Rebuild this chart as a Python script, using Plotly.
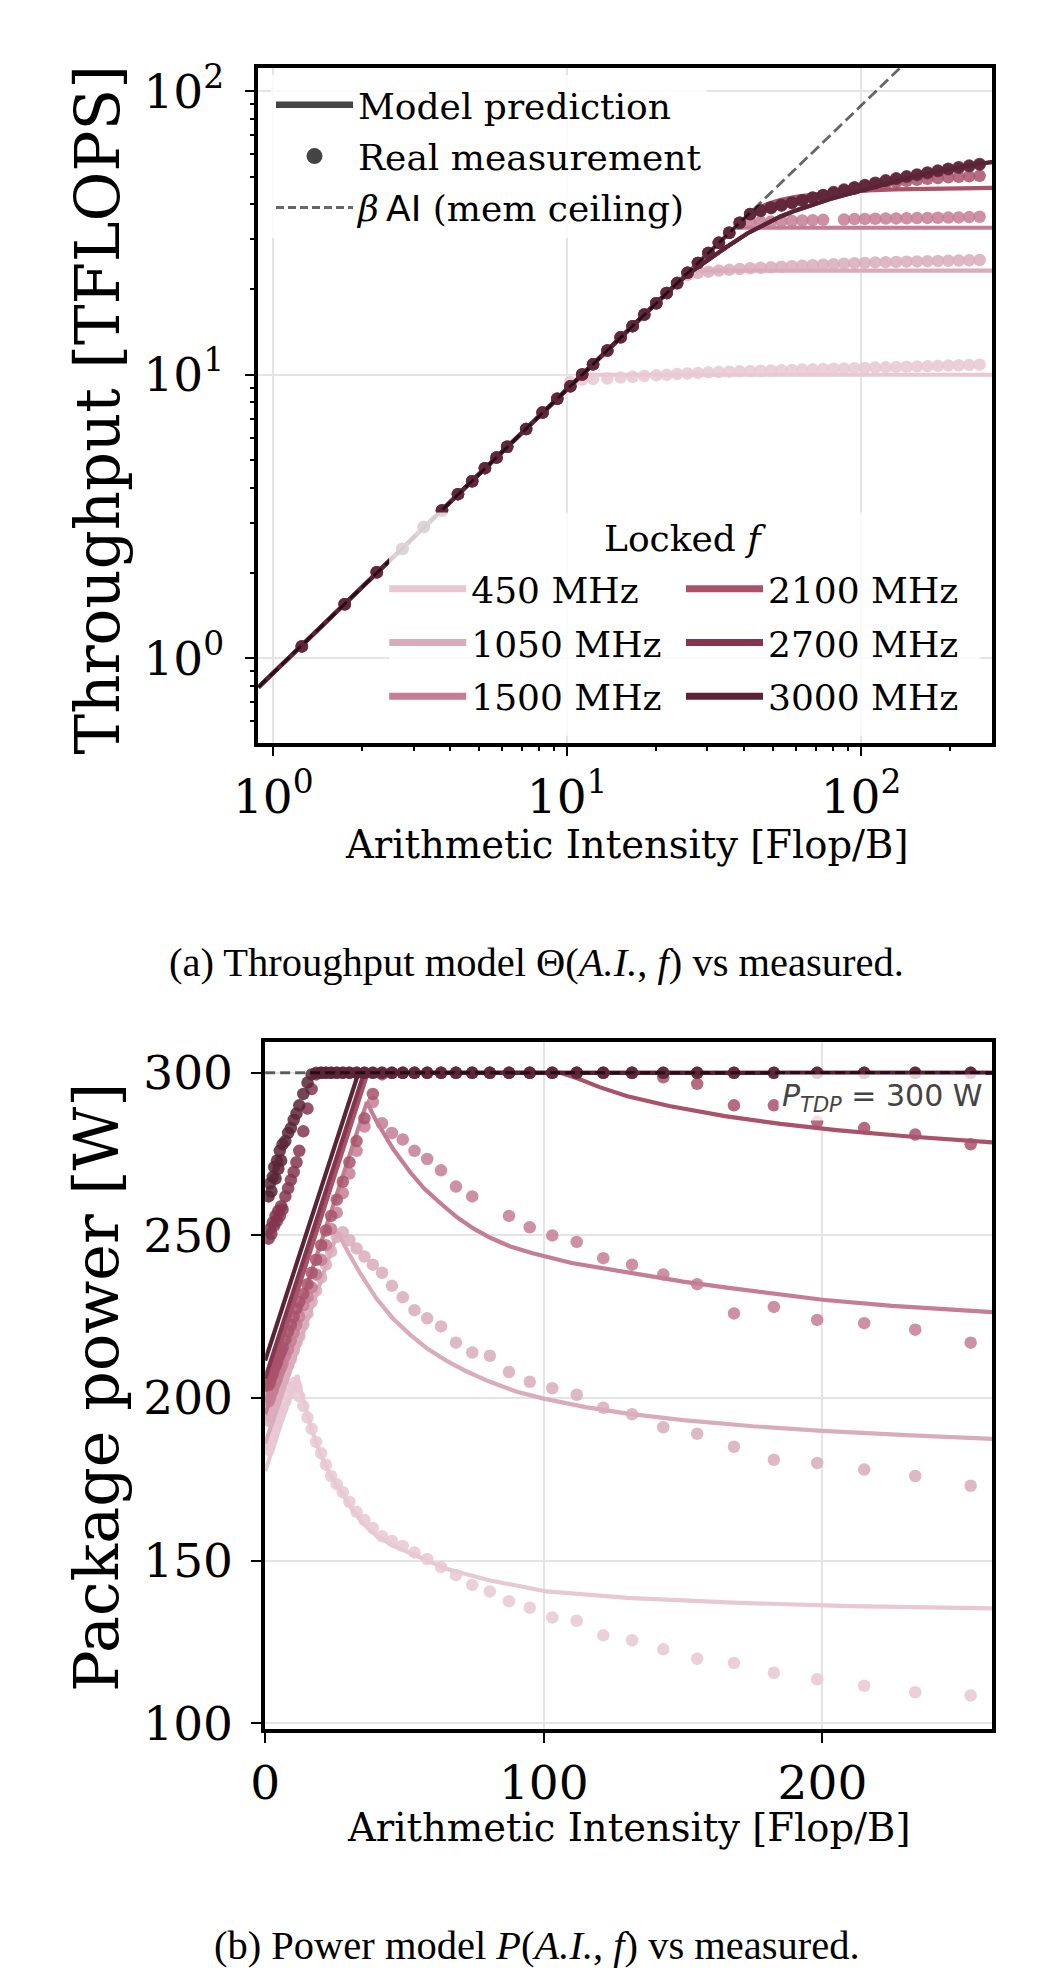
import plotly.graph_objects as go

W, H = 1050, 1988

# ---------------- data ----------------
FREQS = ["450 MHz", "1050 MHz", "1500 MHz", "2100 MHz", "2700 MHz", "3000 MHz"]
COLORS = ["#e8c8d3", "#d9acbc", "#c47d94", "#a8526c", "#84354f", "#5a2437"]

AI = [1.25, 1.75, 2.25, 2.75, 3.25, 3.75, 4.25, 4.75, 5.25, 5.75, 6.25,
      7.25, 8.25, 9.25, 10.25, 11.25, 12.25, 13.7, 15.2, 16.7, 18.3,
      20.1, 21.81, 23.67, 25.69, 27.87, 30.25, 32.82, 35.62, 38.65, 41.94,
      45.51, 49.39, 53.59, 58.16, 63.11, 68.48, 74.31, 80.64, 87.51, 94.96,
      103.05, 111.82, 121.34, 131.67, 142.88, 155.05, 168.25, 182.58, 198.12, 214.99,
      233.3, 253.2]

# measured throughput [TFLOPS]
THR_450 = [1.10, 1.55, 2.01, 2.43, 2.90, 3.32, 3.79, 4.21, 4.68, 5.10, 5.57,
           6.43, 7.36, 8.20, 9.42, 9.60, 9.65, 9.70, 9.78, 9.84, 9.90,
           9.95, 10.00, 10.05, 10.10, 10.15, 10.20, 10.22, 10.25, 10.28, 10.30,
           10.33, 10.35, 10.38, 10.40, 10.43, 10.45, 10.48, 10.50, 10.52, 10.55,
           10.57, 10.60, 10.62, 10.65, 10.67, 10.70, 10.72, 10.75, 10.78, 10.80,
           10.82, 10.85]
THR_1050 = [1.10, 1.55, 2.01, 2.43, 2.90, 3.32, 3.79, 4.21, 4.68, 5.10, 5.57,
            6.43, 7.36, 8.22, 9.10, 10.02, 10.88, 12.17, 13.55, 14.84, 16.30,
            17.87, 19.43, 20.90, 22.50, 22.90, 23.10, 23.30, 23.45, 23.60, 23.75,
            23.85, 23.95, 24.05, 24.15, 24.25, 24.35, 24.45, 24.55, 24.65, 24.75,
            24.80, 24.90, 24.95, 25.00, 25.05, 25.10, 25.15, 25.20, 25.25, 25.30,
            25.35, 25.40]
THR_1500 = [1.10, 1.55, 2.01, 2.43, 2.90, 3.32, 3.79, 4.21, 4.68, 5.10, 5.57,
            6.43, 7.36, 8.22, 9.10, 10.02, 10.88, 12.17, 13.55, 14.84, 16.30,
            17.87, 19.43, 21.05, 22.88, 24.78, 26.90, 29.20, 31.68, 34.00, 34.40,
            34.60, 34.70, 34.80, 34.90, 35.00, 35.10, 35.20, None, 35.30, 35.40,
            35.45, 35.50, 35.55, 35.60, 35.65, 35.70, 35.75, 35.80, 35.85, 35.90,
            36.00, 36.10]
THR_2100 = [1.10, 1.55, 2.01, 2.43, 2.90, 3.32, 3.79, 4.21, 4.68, 5.10, 5.57,
            6.43, 7.36, 8.22, 9.10, 10.02, 10.88, 12.17, 13.55, 14.84, 16.30,
            17.87, 19.43, 21.05, 22.88, 24.78, 26.90, 29.20, 31.68, 34.38, 36.90,
            37.90, 38.80, 39.60, 40.40, 41.20, 42.00, 42.90, 43.80, 44.60, 45.30,
            46.00, 46.70, 47.30, 47.80, 48.30, 48.70, 49.10, 49.40, 49.70, 49.90,
            50.10, 50.30]
THR_2700 = [1.10, 1.55, 2.01, 2.43, 2.90, 3.32, 3.79, 4.21, 4.68, 5.10, 5.57,
            6.43, 7.36, 8.22, 9.10, 10.02, 10.88, 12.17, 13.55, 14.84, 16.30,
            17.87, 19.43, 21.05, 22.88, 24.78, 26.90, 29.20, 31.68, 34.38, 36.80,
            37.80, 38.70, 39.50, 40.30, 41.10, 42.00, 42.90, 43.80, 44.70, 45.60,
            46.40, 47.30, 48.20, 49.00, 49.80, 50.60, 51.40, 52.20, 53.00, 53.70,
            54.40, 55.10]
THR_3000 = [1.10, 1.55, 2.01, 2.43, 2.90, 3.32, 3.79, 4.21, 4.68, 5.10, 5.57,
            6.43, 7.36, 8.22, 9.10, 10.02, 10.88, 12.17, 13.55, 14.84, 16.30,
            17.87, 19.43, 21.05, 22.88, 24.78, 26.90, 29.20, 31.68, 34.38, 36.90,
            38.00, 38.90, 39.70, 40.50, 41.30, 42.20, 43.10, 44.10, 45.00, 45.90,
            46.70, 47.60, 48.50, 49.30, 50.10, 50.90, 51.70, 52.50, 53.30, 54.00,
            54.70, 55.40]

# measured package power [W]
PWR_450 = [184.0, 185.5, 187.0, 188.5, 190.0, 191.5, 193.0, 194.0, 195.0, 196.0, 197.0,
           199.0, 201.0, 203.0, 204.5, 203.5, 200.5, 197.5, 194.0, 190.5, 186.5,
           183.0, 179.5, 176.0, 173.5, 171.0, 168.0, 165.0, 162.5, 160.0, 157.5,
           156.0, 154.5, 152.5, 150.5, 148.0, 145.5, 142.5, 140.5, 137.5, 135.5,
           132.5, 131.5, 127.0, 125.5, 122.7, 119.8, 118.5, 115.5, 113.5, 111.5,
           109.5, 108.5]
PWR_1050 = [193.0, 194.5, 196.0, 197.5, 199.0, 200.0, 201.0, 202.0, 203.5, 204.5, 205.5,
            208.0, 210.0, 212.0, 214.5, 217.0, 219.0, 222.5, 226.0, 229.5, 233.0,
            237.0, 241.0, 245.0, 249.5, 251.0, 248.5, 246.0, 243.5, 241.0, 238.5,
            234.5, 231.0, 227.0, 224.5, 222.0, 217.0, 214.0, 213.0, 208.0, 205.0,
            203.0, 201.0, 197.0, 195.0, 191.0, 189.0, 185.0, 181.0, 180.0, 178.0,
            176.0, 173.0]
PWR_1500 = [199.0, 200.0, 201.5, 202.5, 204.0, 205.0, 206.0, 207.5, 208.5, 209.5, 210.5,
            213.0, 215.0, 217.5, 220.0, 222.5, 225.0, 228.5, 231.0, 234.0, 238.0,
            242.5, 247.0, 252.0, 257.0, 263.0, 269.0, 276.0, 283.5, 291.0, 284.5,
            281.5, 279.5, 276.0, 273.5, 270.0, 265.0, 262.0, None, 256.0, 252.5,
            250.0, 248.0, 243.0, 241.0, 238.0, 235.0, 226.0, 228.0, 224.0, 223.0,
            221.0, 217.0]
PWR_2100 = [204.0, 205.0, 206.5, 207.5, 209.0, 210.0, 211.0, 212.5, 213.5, 214.5, 215.5,
            218.0, 220.5, 222.5, 225.0, 227.5, 229.5, 232.0, 235.0, 238.5, 242.5,
            247.0, 251.5, 256.0, 261.0, 266.5, 272.5, 279.0, 286.0, 293.5, 299.5,
            300.0, 300.0, 300.0, 300.0, 300.0, 300.0, 300.0, 300.0, 300.0, 300.0,
            300.0, 300.0, 300.0, 300.0, 298.6, 296.6, 290.0, 290.0, 285.0, 283.0,
            281.0, 278.0]
PWR_2700 = [249.0, 252.0, 250.5, 254.0, 253.0, 256.0, 254.5, 257.5, 256.0, 259.0, 258.0,
            262.0, 264.5, 267.0, 269.5, 272.5, 276.0, 282.0, 289.0, 295.0, 299.5,
            300.0, 300.0, 300.0, 300.0, 300.0, 300.0, 300.0, 300.0, 300.0, 300.0,
            300.0, 300.0, 300.0, 300.0, 300.0, 300.0, 300.0, 300.0, 300.0, 300.0,
            300.0, 300.0, 300.0, 300.0, 300.0, 300.0, 300.0, 300.0, 300.0, 300.0,
            300.0, 300.0]
PWR_3000 = [262.0, 266.0, 263.5, 268.0, 271.0, 267.5, 273.0, 270.5, 276.0, 273.0, 278.0,
            279.0, 281.5, 283.0, 285.5, 287.5, 290.0, 293.5, 297.0, 299.5, 300.0,
            300.0, 300.0, 300.0, 300.0, 300.0, 300.0, 300.0, 300.0, 300.0, 300.0,
            300.0, 300.0, 300.0, 300.0, 300.0, 300.0, 300.0, 300.0, 300.0, 300.0,
            300.0, 300.0, 300.0, 300.0, 300.0, 300.0, 300.0, 300.0, 300.0, 300.0,
            300.0, 300.0]

# model prediction, throughput (panel a)
MT_AI_450 = [0.89, 11.24, 280.0]
MT_450 = [0.79, 10.0, 10.0]
MT_AI_1050 = [0.89, 26.2, 280.0]
MT_1050 = [0.79, 23.3, 23.3]
MT_AI_1500 = [0.89, 37.1, 280.0]
MT_1500 = [0.79, 33.0, 33.0]
MT_AI_2100 = [0.89, 40.0, 44.0, 48.0, 53.0, 60.0, 70.0, 80.0, 100.0, 130.0, 170.0, 220.0, 280.0]
MT_2100 = [0.79, 35.5, 38.3, 40.0, 41.3, 42.4, 43.3, 43.9, 44.6, 45.1, 45.4, 45.5, 45.6]
MT_AI_2700 = [0.89, 22.0, 26.0, 30.0, 35.0, 41.0, 47.0, 53.0, 60.0, 68.0, 78.0, 88.0,
              100.0, 114.0, 130.0, 150.0, 175.0, 200.0, 230.0, 254.0, 280.0]
MT_2700 = [0.79, 19.6, 22.8, 25.4, 28.3, 31.5, 34.0, 36.1, 38.0, 39.8, 41.6, 43.1,
           44.7, 46.4, 48.1, 49.9, 51.8, 53.2, 54.6, 55.5, 56.3]
MT_AI_3000 = [0.89, 22.0, 26.0, 30.0, 35.0, 41.0, 47.0, 53.0, 60.0, 68.0, 78.0, 88.0,
              100.0, 114.0, 130.0, 150.0, 175.0, 200.0, 230.0, 254.0, 280.0]
MT_3000 = [0.79, 19.6, 22.8, 25.4, 28.3, 31.5, 34.0, 36.1, 38.0, 39.8, 41.6, 43.1,
           44.7, 46.4, 48.1, 49.9, 51.8, 53.2, 54.6, 55.5, 56.3]

# memory ceiling beta * AI
MEM_AI = [0.89, 140.0]
MEM_THR = [0.79, 124.6]

# model prediction, power (panel b)
MP_AI_450 = [0, 11.5, 13, 15, 17, 20, 23, 27, 31, 35, 40, 46, 54, 65, 80, 101, 130, 170, 210, 261]
MP_450 = [177.5, 207.0, 201.5, 195.0, 189.5, 182.5, 177.0, 171.5, 166.0, 161.5, 157.5, 154.5,
          151.5, 147.5, 144.0, 140.5, 138.5, 137.0, 136.0, 135.3]
MP_AI_1050 = [0, 26, 30, 34, 40, 46, 52, 58, 65, 72, 80, 90, 100, 115, 130, 150, 175, 200, 230, 261]
MP_1050 = [186.0, 251.0, 244.5, 238.5, 230.5, 224.3, 219.5, 215.3, 211.5, 208.3, 205.2, 202.0,
           199.8, 197.2, 195.2, 193.2, 191.3, 189.9, 188.6, 187.4]
MP_AI_1500 = [0, 36.5, 40, 46, 52, 57, 63, 69, 75, 81, 88, 96, 110, 130, 150, 165, 185, 200, 225, 261]
MP_1500 = [195.0, 291.0, 285.0, 276.5, 269.5, 264.5, 259.8, 255.5, 252.0, 249.2, 246.6, 244.5,
           241.5, 238.5, 235.8, 234.0, 231.8, 230.2, 228.3, 226.4]
MP_AI_2100 = [0, 36.8, 106, 112, 120, 130, 145, 165, 185, 205, 230, 261]
MP_2100 = [202.0, 300.0, 300.0, 298.3, 295.6, 292.8, 289.8, 286.7, 284.3, 282.4, 280.5, 278.6]
MP_AI_2700 = [0, 35.5, 261]
MP_2700 = [206.0, 300.0, 300.0]
MP_AI_3000 = [0, 33.5, 261]
MP_3000 = [211.5, 300.0, 300.0]

TDP_AI = [0, 261]
TDP_W = [300, 300]

SERIES = [
    (FREQS[0], COLORS[0], THR_450, PWR_450, MT_AI_450, MT_450, MP_AI_450, MP_450),
    (FREQS[1], COLORS[1], THR_1050, PWR_1050, MT_AI_1050, MT_1050, MP_AI_1050, MP_1050),
    (FREQS[2], COLORS[2], THR_1500, PWR_1500, MT_AI_1500, MT_1500, MP_AI_1500, MP_1500),
    (FREQS[3], COLORS[3], THR_2100, PWR_2100, MT_AI_2100, MT_2100, MP_AI_2100, MP_2100),
    (FREQS[4], COLORS[4], THR_2700, PWR_2700, MT_AI_2700, MT_2700, MP_AI_2700, MP_2700),
    (FREQS[5], COLORS[5], THR_3000, PWR_3000, MT_AI_3000, MT_3000, MP_AI_3000, MP_3000),
]

# ---------------- figure ----------------
SERIF = "DejaVu Serif"
SANS = "DejaVu Sans"
TIMES = "Liberation Serif"
MARK = 12.5
ALPHA = 0.85
LW = 4.2
LEGFONT = 36

fig = go.Figure()

for name, col, thr, pwr, mtx, mty, mpx, mpy in SERIES:
    fig.add_trace(go.Scatter(x=mtx, y=mty, mode="lines", line=dict(color=col, width=LW),
                             xaxis="x", yaxis="y", showlegend=False, hoverinfo="skip"))
    fig.add_trace(go.Scatter(x=AI, y=thr, mode="markers",
                             marker=dict(color=col, size=MARK, opacity=ALPHA, line=dict(width=0)),
                             xaxis="x", yaxis="y", showlegend=False, hoverinfo="skip"))
fig.add_trace(go.Scatter(x=MEM_AI, y=MEM_THR, mode="lines",
                         line=dict(color="rgba(0,0,0,0.6)", width=2.8, dash="11px,5px"),
                         xaxis="x", yaxis="y", showlegend=False, hoverinfo="skip"))

for name, col, thr, pwr, mtx, mty, mpx, mpy in SERIES:
    fig.add_trace(go.Scatter(x=mpx, y=mpy, mode="lines", line=dict(color=col, width=LW),
                             xaxis="x2", yaxis="y2", showlegend=False, hoverinfo="skip"))
    fig.add_trace(go.Scatter(x=AI, y=pwr, mode="markers",
                             marker=dict(color=col, size=MARK, opacity=ALPHA, line=dict(width=0)),
                             xaxis="x2", yaxis="y2", showlegend=False, hoverinfo="skip"))
fig.add_trace(go.Scatter(x=TDP_AI, y=TDP_W, mode="lines",
                         line=dict(color="rgba(0,0,0,0.6)", width=3, dash="10px,5px"),
                         xaxis="x2", yaxis="y2", showlegend=False, hoverinfo="skip"))

# legend entries (main legend)
fig.add_trace(go.Scatter(x=[None], y=[None], mode="lines", name="Model prediction",
                         line=dict(color="#444444", width=6.5), legend="legend",
                         legendgroup="m1", xaxis="x", yaxis="y"))
fig.add_trace(go.Scatter(x=[None], y=[None], mode="markers", name="Real measurement",
                         marker=dict(color="#444444", size=16), legend="legend",
                         legendgroup="m2", xaxis="x", yaxis="y"))
fig.add_trace(go.Scatter(x=[None], y=[None], mode="lines",
                         name="<i>β</i>\u2009<span style='font-family:DejaVu Sans'>AI</span> (mem ceiling)",
                         line=dict(color="#666666", width=3, dash="8px,4px"), legend="legend",
                         legendgroup="m3", xaxis="x", yaxis="y"))

# frequency legend entries (two columns)
for i, (name, col, *_r) in enumerate(SERIES):
    leg = "legend2" if i < 3 else "legend3"
    fig.add_trace(go.Scatter(x=[None], y=[None], mode="lines", name=name,
                             line=dict(color=col, width=7), legend=leg,
                             legendgroup="f%d" % i, xaxis="x", yaxis="y"))

axis_common = dict(
    showline=True, mirror=True, linecolor="black", linewidth=3.5,
    ticks="outside", ticklen=10, tickwidth=2, tickcolor="black",
    showgrid=True, gridcolor="#e4e4e4", gridwidth=2, zeroline=False,
    tickfont=dict(family=SERIF, size=47, color="black"),
)

minor_log_x = dict(tickvals=[2, 3, 4, 5, 6, 7, 8, 9, 20, 30, 40, 50, 60, 70, 80, 90, 200],
                   ticks="outside", ticklen=5, tickwidth=1.5, tickcolor="black", showgrid=False)
minor_log_y = dict(tickvals=[0.6, 0.7, 0.8, 0.9, 2, 3, 4, 5, 6, 7, 8, 9, 20, 30, 40, 50, 60, 70, 80, 90],
                   ticks="outside", ticklen=5, tickwidth=1.5, tickcolor="black", showgrid=False)

leg_common = dict(xanchor="left", yanchor="top", borderwidth=0,
                  font=dict(family=SERIF, size=LEGFONT, color="black"), itemwidth=77)

fig.update_layout(
    width=W, height=H, autosize=False,
    margin=dict(l=0, r=0, t=0, b=0),
    paper_bgcolor="white", plot_bgcolor="white",
    hovermode=False,
    xaxis=dict(type="log", domain=[239 / W, 991 / W], range=[-0.051, 2.447], anchor="y",
               tickvals=[1, 10, 100], ticktext=["10<sup>0</sup>", "10<sup>1</sup>", "10<sup>2</sup>"],
               minor=minor_log_x, **axis_common),
    yaxis=dict(type="log", domain=[1 - 744 / H, 1 - 58 / H], range=[-0.298, 2.082], anchor="x",
               tickvals=[1, 10, 100], ticktext=["10<sup>0</sup>", "10<sup>1</sup>", "10<sup>2</sup>"],
               minor=minor_log_y, ticklabelstandoff=11, **axis_common),
    xaxis2=dict(domain=[246 / W, 991 / W], range=[0, 261], anchor="y2",
                tickvals=[0, 100, 200], **axis_common),
    yaxis2=dict(domain=[1 - 1747 / H, 1 - 1048 / H], range=[98.2, 309.6], anchor="x2",
                tickvals=[100, 150, 200, 250, 300], ticklabelstandoff=9, **axis_common),
    legend=dict(x=252 / W, y=1 - 65 / H, bgcolor="rgba(255,255,255,0.8)",
                tracegroupgap=1.5, **leg_common),
    legend2=dict(x=368 / W, y=1 - 557 / H, bgcolor="rgba(0,0,0,0)",
                 tracegroupgap=4, **leg_common),
    legend3=dict(x=672 / W, y=1 - 557 / H, bgcolor="rgba(0,0,0,0)",
                 tracegroupgap=4, **leg_common),
)

# translucent frame behind the "Locked f" legend
fig.add_shape(type="rect", xref="paper", yref="paper",
              x0=373 / W, x1=978 / W, y0=1 - 737 / H, y1=1 - 510 / H,
              fillcolor="rgba(255,255,255,0.8)", line=dict(width=0), layer="above")

ann = [
    dict(text="Locked <i>f</i>", x=676 / W, y=1 - 536 / H,
         font=dict(family=SERIF, size=LEGFONT, color="black")),
    dict(text="Throughput [TFLOPS]", x=74 / W, y=1 - 405 / H, textangle=-90,
         font=dict(family=SERIF, size=61, color="black")),
    dict(text="Package power [W]", x=74 / W, y=1 - 1400 / H, textangle=-90,
         font=dict(family=SERIF, size=62, color="black")),
    dict(text="Arithmetic Intensity [Flop/B]", x=616 / W, y=1 - 848 / H,
         font=dict(family=SERIF, size=38.5, color="black"), borderpad=0),
    dict(text="Arithmetic Intensity [Flop/B]", x=618 / W, y=1 - 1847 / H,
         font=dict(family=SERIF, size=38.5, color="black"), borderpad=0),
    dict(text="(a) Throughput model Θ(<i>A.I.</i>, <i>f</i>) vs measured.", x=524 / W, y=1 - 968 / H,
         font=dict(family=TIMES, size=40.5, color="black")),
    dict(text="(b) Power model <i>P</i>(<i>A.I.</i>, <i>f</i>) vs measured.", x=524 / W, y=1 - 1967 / H,
         font=dict(family=TIMES, size=40.5, color="black")),
    dict(text="<i>P</i><sub><i>TDP</i></sub> = 300 W", x=984 / W, y=1 - 1105 / H, xanchor="right",
         font=dict(family=SANS, size=30, color="#444444"), bgcolor="rgba(255,255,255,0.8)",
         borderpad=3),
]
for a in ann:
    base = dict(xref="paper", yref="paper", showarrow=False, xanchor="center", yanchor="middle")
    base.update(a)
    fig.add_annotation(**base)

fig.write_html("out.html")
